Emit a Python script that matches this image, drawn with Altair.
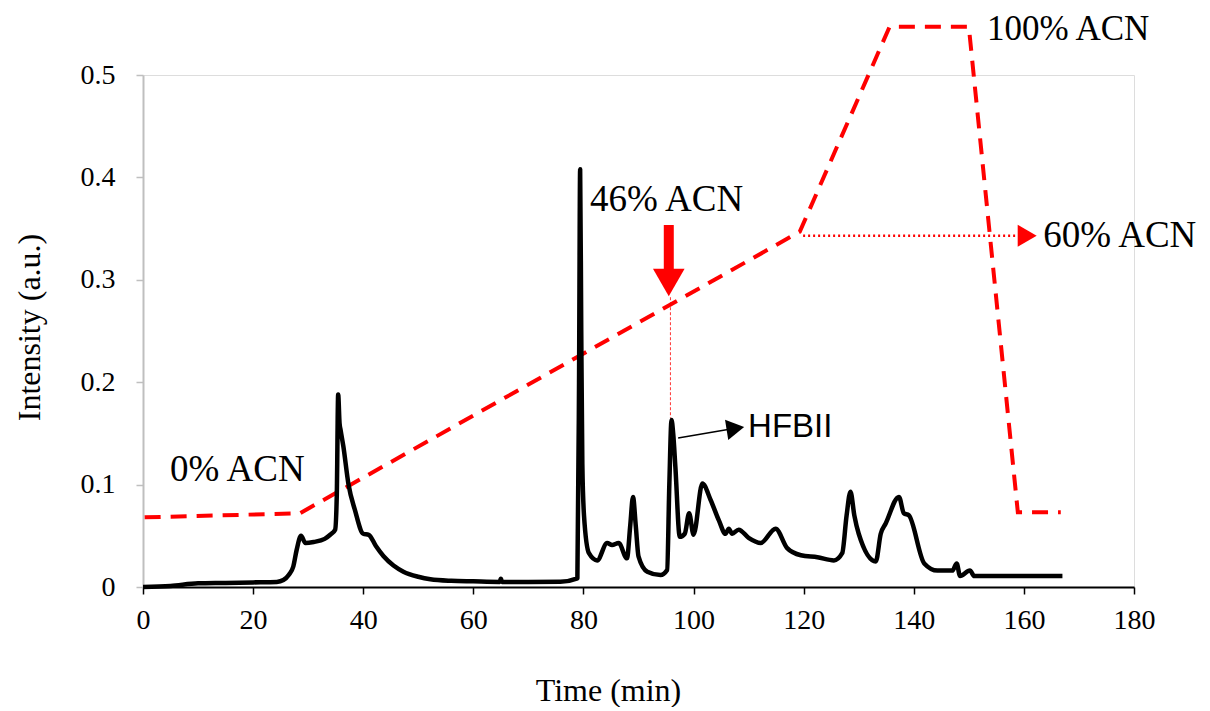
import altair as alt
import pandas as pd

# Chromatogram (time in min, intensity in a.u.)
chrom_t = [0, 5, 10, 15, 20, 24.3, 25.5, 26.5, 27.3, 27.9, 28.7, 29.5, 31, 33, 34, 34.9, 35.2,
           35.45, 35.7, 35.9, 36.4, 37.3, 38.5, 40, 41, 42.3, 43.7, 45.5, 47.3, 50, 52.2, 56,
           60, 64.8, 65, 65.2, 70, 75.8, 78.9, 79.2, 79.4, 79.6, 79.8, 80.1, 81, 82.5, 84.3,
           85.2, 86.4, 87.9, 88.5, 89, 89.5, 90, 91.6, 94, 95.2, 95.6, 96, 96.3, 96.7, 97.5,
           98.4, 99.2, 100, 101.6, 103.1, 104.6, 105.8, 106.4, 107, 108.2, 110, 112.2, 114.9,
           117, 119.5, 122.5, 125.5, 127, 127.8, 128.5, 129.2, 130, 133.1, 134, 134.9, 137.3,
           138.2, 139.1, 141.9, 144.3, 147, 147.8, 148.4, 150.2, 151, 167]
chrom_i = [0, 0.001, 0.0036, 0.004, 0.0045, 0.005, 0.0068, 0.012, 0.02, 0.036, 0.050, 0.043,
           0.044, 0.047, 0.051, 0.056, 0.09, 0.188, 0.16, 0.153, 0.137, 0.101, 0.075, 0.052,
           0.051, 0.04, 0.030, 0.021, 0.015, 0.010, 0.0075, 0.006, 0.0055, 0.005, 0.008, 0.005,
           0.005, 0.0052, 0.0085, 0.2, 0.408, 0.25, 0.12, 0.07, 0.033, 0.026, 0.043, 0.041,
           0.043, 0.028, 0.06, 0.088, 0.06, 0.030, 0.015, 0.0117, 0.0166, 0.1, 0.163, 0.15,
           0.117, 0.049, 0.052, 0.072, 0.051, 0.101, 0.085, 0.065, 0.052, 0.057, 0.052, 0.056,
           0.048, 0.043, 0.057, 0.038, 0.031, 0.029, 0.026, 0.033, 0.07, 0.093, 0.07, 0.052,
           0.025, 0.052, 0.062, 0.088, 0.072, 0.070, 0.023, 0.016, 0.016, 0.023, 0.0107, 0.016,
           0.0107, 0.0107]

# ACN gradient trace (drawn on the intensity scale)
grad_t = [0.3, 28.5, 119.3, 135.6, 150.0, 158.9, 166.7]
grad_i = [0.068, 0.072, 0.347, 0.547, 0.547, 0.073, 0.073]

# Annotations
label_text = ["0% ACN", "46% ACN", "60% ACN"]
label_t = [4.9, 81.2, 163.5]
label_i = [0.114, 0.378, 0.343]

top_text = ["100% ACN"]
top_t = [153.3]
top_i = [0.534]

hfb_text = ["HFBII"]
hfb_t = [109.9]
hfb_i = [0.156]

x_ticks = [0, 20, 40, 60, 80, 100, 120, 140, 160, 180]
y_ticks = [0, 0.1, 0.2, 0.3, 0.4, 0.5]

chrom = pd.DataFrame({"t": chrom_t, "I": chrom_i})
grad = pd.DataFrame({"t": grad_t, "I": grad_i})
labels = pd.DataFrame({"t": label_t, "I": label_i, "txt": label_text})
tops = pd.DataFrame({"t": top_t, "I": top_i, "txt": top_text})
hfb = pd.DataFrame({"t": hfb_t, "I": hfb_i, "txt": hfb_text})

SERIF = "Liberation Serif"
RED = "#ff0000"

xs = alt.Scale(domain=[0, 180], nice=False, zero=False)
ys = alt.Scale(domain=[0, 0.5], nice=False)

x_axis = alt.Axis(values=x_ticks, title="Time (min)", grid=False,
                  domainColor="#000000", domainWidth=2, tickColor="#000000", tickWidth=1.5,
                  tickSize=7, labelFont=SERIF, labelFontSize=28, labelColor="#000000",
                  labelPadding=12, titleFont=SERIF, titleFontSize=32, titleFontWeight="normal",
                  titleColor="#000000", titleX=465, titleY=103, titleBaseline="middle",
                  titleAlign="center", labelFlush=False)
y_axis = alt.Axis(values=y_ticks, format="~g", title="Intensity (a.u.)", grid=False,
                  domainColor="#bfbfbf", domainWidth=2, tickColor="#bfbfbf", tickWidth=1.5,
                  tickSize=7, labelFont=SERIF, labelFontSize=28, labelColor="#000000",
                  labelPadding=21, titleFont=SERIF, titleFontSize=32, titleFontWeight="normal",
                  titleColor="#000000", titleX=-114, titleY=252, titleAngle=270,
                  titleBaseline="middle", titleAlign="center", labelFlush=False)

X = alt.X("t:Q", scale=xs, axis=x_axis)
Y = alt.Y("I:Q", scale=ys, axis=y_axis)

chrom_line = alt.Chart(chrom).mark_line(color="#000000", strokeWidth=4.5, strokeJoin="round",
                                        interpolate="monotone").encode(x=X, y=Y, order="t:Q")

grad_line = alt.Chart(grad).mark_line(color=RED, strokeWidth=4, strokeDash=[16, 10]).encode(
    x=X, y=Y, order="t:Q")

# 60% ACN dotted projection with arrow head
p60 = pd.DataFrame({"t": [119.9], "t2": [160.0], "I": [0.343]})
dot60 = alt.Chart(p60).mark_rule(color=RED, strokeWidth=2.5, strokeDash=[2, 3]).encode(
    x=X, x2="t2:Q", y=Y)
head60 = alt.Chart(pd.DataFrame({"t": [160.6], "I": [0.343]})).mark_point(
    shape="triangle-right", filled=True, color=RED, opacity=1, size=480, strokeWidth=0).encode(x=X, y=Y)

# 46% ACN red arrow and vertical dotted drop to the HFBII peak
shaft = alt.Chart(pd.DataFrame({"t": [95.5], "I": [0.3535], "I2": [0.308]})).mark_rule(
    color=RED, strokeWidth=10, strokeCap="butt").encode(x=X, y=Y, y2="I2:Q")
head46 = alt.Chart(pd.DataFrame({"t": [95.5], "I": [0.2974]})).mark_point(
    shape="triangle-down", filled=True, color=RED, opacity=1, size=1000, strokeWidth=0).encode(x=X, y=Y)
drop = alt.Chart(pd.DataFrame({"t": [95.8], "I": [0.283], "I2": [0.165]})).mark_rule(
    color=RED, strokeWidth=1, strokeDash=[3, 2], opacity=0.8).encode(x=X, y=Y, y2="I2:Q")

# HFBII black arrow
hfb_shaft = alt.Chart(pd.DataFrame({"t": [97.2], "t2": [106.5], "I": [0.1455], "I2": [0.154]})).mark_rule(
    color="#000000", strokeWidth=1.5).encode(x=X, x2="t2:Q", y=Y, y2="I2:Q")
hfb_head = alt.Chart(pd.DataFrame({"t": [107.6], "I": [0.1548]})).mark_point(
    shape="triangle-right", filled=True, color="#000000", opacity=1, size=420, angle=351,
    strokeWidth=0).encode(x=X, y=Y)

texts = alt.Chart(labels).mark_text(font=SERIF, fontSize=37, align="left", baseline="middle",
                                    color="#000000").encode(x=X, y=Y, text="txt:N")
top_label = alt.Chart(tops).mark_text(font=SERIF, fontSize=35, align="left", baseline="alphabetic",
                                      color="#000000").encode(x=X, y=Y, text="txt:N")
hfb_label = alt.Chart(hfb).mark_text(font="Liberation Sans", fontSize=33, align="left",
                                     baseline="middle", color="#000000").encode(x=X, y=Y, text="txt:N")

chart = alt.layer(grad_line, dot60, head60, drop, shaft, head46, chrom_line, hfb_shaft, hfb_head,
                  texts, top_label, hfb_label).properties(
    width=991, height=512,
    autosize=alt.AutoSizeParams(type="none"),
    padding={"left": 135, "top": 67, "right": 68, "bottom": 120},
).configure_view(stroke=None).configure_axis(
    labelFont=SERIF, titleFont=SERIF
).configure(background="#ffffff")

chart.save("out.html", embed_options={"renderer": "svg", "actions": False})
